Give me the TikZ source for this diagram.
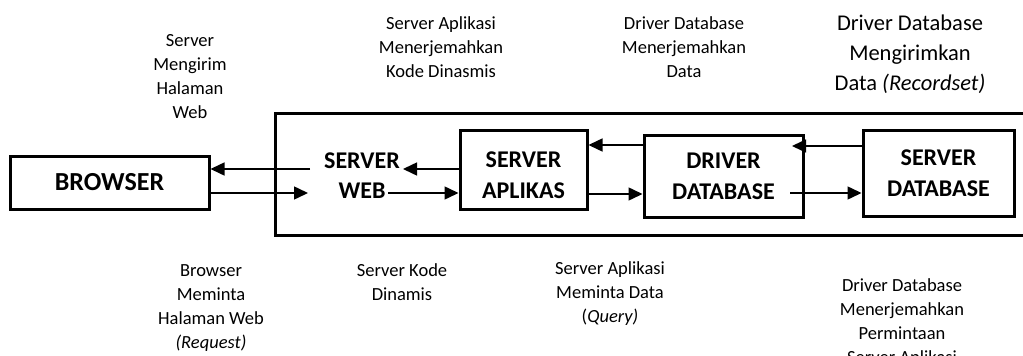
\documentclass[tikz,border=0pt]{standalone}
\usepackage{fontspec}
\setmainfont{Carlito}
\usetikzlibrary{arrows.meta}

\tikzset{
  box/.style={draw, line width=3pt, inner sep=0pt, align=center,
              font=\bfseries\fontsize{24}{31}\selectfont},
  plain/.style={inner sep=0pt, align=center, font=\bfseries\fontsize{24}{30}\selectfont},
  note/.style={inner sep=0pt, align=center, font=\fontsize{18.5}{24}\selectfont},
  bignote/.style={inner sep=0pt, align=center, font=\fontsize{22.5}{30}\selectfont},
  arr/.style={line width=1.5pt, -{Triangle[length=14pt,width=13pt]}},
}

\begin{document}
\begin{tikzpicture}[x=1pt,y=-1pt]
\useasboundingbox (0,0) rectangle (1023,356);
\clip (0,0) rectangle (1023,356);

% server side enclosure, running off the right edge
\draw[line width=3pt] (1040,113) -- (275,113) -- (275,235) -- (1040,235);

% components
\node[box, minimum width=199pt, minimum height=53pt,
      font=\bfseries\fontsize{26}{31}\selectfont] (browser) at (109.5,182.5) {BROWSER};
\node[plain] (web) at (362,175.5) {SERVER\\WEB};
\node[box, minimum width=127pt, minimum height=79pt] (apl) at (523.5,169.5)
  {\rule{0pt}{28pt}SERVER\\APLIKAS};
\node[box, minimum width=159pt, minimum height=82pt] (drv) at (723.5,176) {DRIVER\\DATABASE};
\node[box, minimum width=151pt, minimum height=86pt] (sdb) at (938.5,173) {SERVER\\DATABASE};

% free ends of the connectors
\coordinate (webL1) at (310,169);
\coordinate (webL2) at (308,193);
\coordinate (webR1) at (403,169);
\coordinate (webR2) at (388,193);
\coordinate (drvR1) at (792,146);
\coordinate (drvR2) at (790,193);
\coordinate (hi) at (0,145);
\coordinate (lo) at (0,194);

% request / response flows
\draw[arr] (webL1) -- (browser.east |- webL1);
\draw[arr] (browser.east |- webL2) -- (webL2);
\draw[arr] (apl.west |- webR1) -- (webR1);
\draw[arr] (webR2) -- (apl.west |- webR2);
\draw[arr] (drv.west |- hi) -- (apl.east |- hi);
\draw[arr] (apl.east |- lo) -- (drv.west |- lo);
\draw[arr] (sdb.west |- drvR1) -- (drvR1);
\draw[arr] (drvR2) -- (sdb.west |- drvR2);

% step descriptions, upper row
\node[note] (t1) at (190,77) {Server\\Mengirim\\Halaman\\Web};
\node[note] (t2) at (441,47) {Server Aplikasi\\Menerjemahkan\\Kode Dinasmis};
\node[note] (t3) at (684,47.5) {Driver Database\\Menerjemahkan\\Data};
\node[bignote] (t4) at (910,54) {Driver Database\\Mengirimkan\\Data \textit{(Recordset)}};

% step descriptions, lower row
\node[note] (b1) at (211,308) {Browser\\Meminta\\Halaman Web\\\textit{(Request)}};
\node[note] (b2) at (402,282) {Server Kode\\Dinamis};
\node[note] (b3) at (610,294) {Server Aplikasi\\Meminta Data\\(\textit{Query)}};
\node[note] (b4) at (902,323) {Driver Database\\Menerjemahkan\\Permintaan\\Server Aplikasi};
\end{tikzpicture}
\end{document}
